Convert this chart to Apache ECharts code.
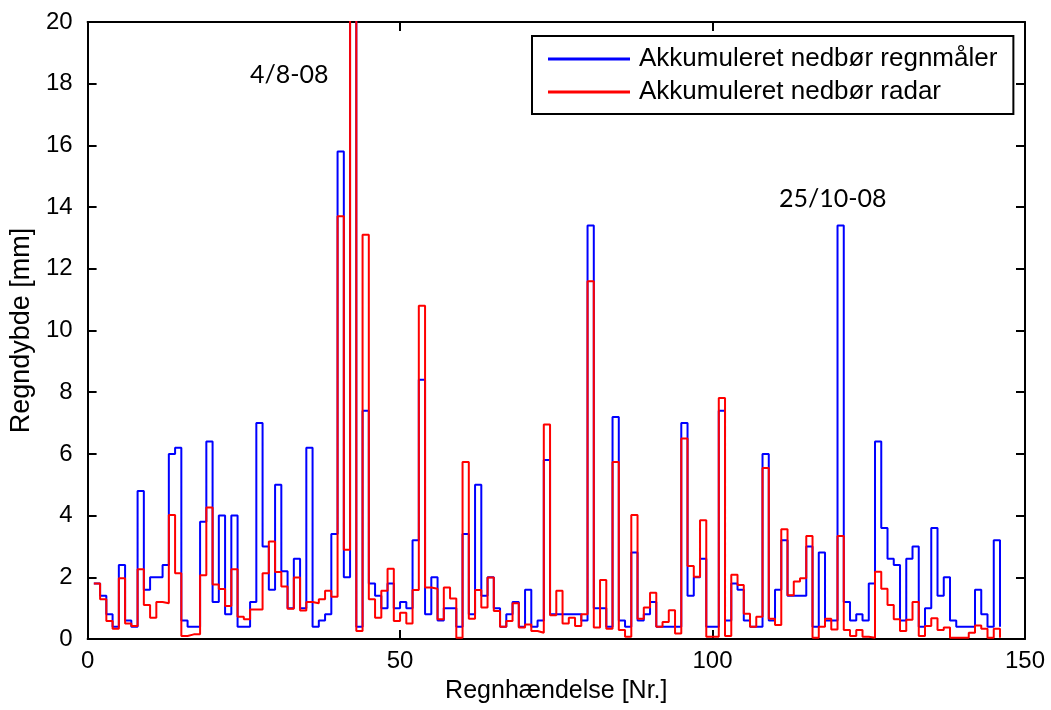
<!DOCTYPE html>
<html>
<head>
<meta charset="utf-8">
<script src="https://cdn.jsdelivr.net/npm/echarts@6/dist/echarts.min.js"></script>
<style>
html,body{margin:0;padding:0;background:#fff;}
#chart{width:1051px;height:710px;}
</style>
</head>
<body>
<div id="chart"></div>
<script>
// Event numbers (x) 1..146
const eventCount = 146;
const events = Array.from({length: eventCount}, (_, i) => i + 1);

// Rain gauge accumulated precipitation [mm]
const gauge = [
 1.8,1.4,0.8,0.4,2.4,0.6,0.4,4.8,1.6,2.0,
 2.0,2.4,6.0,6.2,0.6,0.4,0.4,3.8,6.4,1.2,
 4.0,0.8,4.0,0.4,0.4,1.2,7.0,3.0,1.6,5.0,
 2.2,1.0,2.6,1.0,6.2,0.4,0.6,0.8,3.4,15.8,
 2.0,23,0.4,7.4,1.8,1.4,1.0,1.8,1.0,1.2,
 1.0,3.2,8.4,0.8,2.0,0.6,1.0,1.0,0.4,3.4,
 0.8,5.0,1.4,2.0,1.0,0.4,0.8,1.2,0.4,1.6,
 0.4,0.6,5.8,0.8,0.8,0.8,0.8,0.8,0.6,13.4,
 1.0,1.0,0.4,7.2,0.6,0.4,2.8,0.6,0.8,1.2,
 0.4,0.4,0.4,0.4,7.0,1.4,2.0,2.6,0.4,0.4,
 7.4,0.6,1.8,1.6,0.6,0.4,0.4,6.0,0.6,1.6,
 3.2,1.4,1.4,1.4,3.0,0.4,2.8,0.6,0.6,13.4,
 1.2,0.6,0.8,0.6,1.8,6.4,3.6,2.6,2.4,0.6,
 2.6,3.0,0.4,1.0,3.6,1.4,2.0,0.6,0.4,0.4,
 0.4,1.6,0.8,0.4,3.2,0.4
];

// Radar accumulated precipitation [mm]
const radar = [
 1.8,1.29,0.58,0.33,1.97,0.5,0.42,2.26,1.1,0.69,
 1.2,1.16,4.02,2.13,0.1,0.15,0.15,2.07,4.26,1.77,
 1.62,1.07,2.26,0.72,0.64,0.96,0.96,2.13,3.16,2.17,
 1.7,0.98,1.99,0.92,1.2,1.16,1.29,1.56,1.37,13.7,
 2.89,23,0.26,13.1,1.29,0.69,1.56,2.28,0.58,0.85,
 0.5,1.59,10.8,1.67,1.63,0.64,1.67,1.31,0.04,5.74,
 0.66,1.59,1.02,1.99,0.91,0.4,0.58,1.16,0.37,0.47,
 0.26,0.2,6.95,0.77,1.56,0.5,0.69,0.42,0.8,11.6,
 0.37,1.91,0.33,5.74,0.29,0.07,4.02,0.66,1.02,1.5,
 0.4,0.55,0.93,0.18,6.5,2.37,2.02,3.85,0.07,0.07,
 7.81,0.1,2.08,1.75,0.82,0.4,0.72,5.54,0.66,0.45,
 3.56,1.42,1.86,1.97,3.34,0.04,0.4,0.66,0.31,3.34,
 0.29,0.1,0.29,0.07,0.04,2.18,1.63,1.1,0.64,0.26,
 0.62,1.2,0.1,0.42,0.67,0.29,0.37,0.04,0.04,0.04,
 0.2,0.44,0.33,0.04,0.33,0.04
];

const seriesNames = ['Akkumuleret nedbør regnmåler', 'Akkumuleret nedbør radar'];
const xTicks = [0, 50, 100, 150];
const yTicks = [0, 2, 4, 6, 8, 10, 12, 14, 16, 18, 20];
const annotations = ['4/8-08', '25/10-08'];

const pair = arr => events.map((x, i) => [x, arr[i]]);

const chart = echarts.init(document.getElementById('chart'), null, {renderer: 'canvas'});
const font = 'Liberation Sans, Arial, sans-serif';
const axisCommon = {
  axisLine: {show: true, onZero: false, lineStyle: {color: '#000', width: 2}},
  axisTick: {show: true, inside: true, length: 9, lineStyle: {color: '#000', width: 2}},
  splitLine: {show: false}
};

chart.setOption({
  animation: false,
  backgroundColor: '#fff',
  grid: {left: 87, right: 26, top: 22, bottom: 71, containLabel: false},
  xAxis: [
    Object.assign({
      type: 'value', min: xTicks[0], max: xTicks[xTicks.length - 1], interval: 50,
      name: 'Regnhændelse [Nr.]', nameLocation: 'middle', nameGap: 40,
      nameTextStyle: {fontFamily: font, fontSize: 25, color: '#000'},
      axisLabel: {fontFamily: font, fontSize: 24, color: '#000', margin: 10}
    }, axisCommon),
    Object.assign({
      type: 'value', position: 'top', min: 0, max: 150, interval: 50,
      axisLabel: {show: false}
    }, axisCommon)
  ],
  yAxis: [
    Object.assign({
      type: 'value', min: yTicks[0], max: yTicks[yTicks.length - 1], interval: 2,
      name: 'Regndybde [mm]', nameLocation: 'middle', nameGap: 50, nameRotate: 90,
      nameTextStyle: {fontFamily: font, fontSize: 27, color: '#000'},
      axisLabel: {fontFamily: font, fontSize: 24, color: '#000', margin: 15}
    }, axisCommon),
    Object.assign({
      type: 'value', position: 'right', min: 0, max: 20, interval: 2,
      axisLabel: {show: false}
    }, axisCommon)
  ],
  legend: {
    orient: 'vertical',
    left: 532, top: 36,
    padding: [10, 16, 9, 16],
    itemGap: 7,
    itemWidth: 82,
    itemHeight: 3,
    icon: 'rect',
    borderColor: '#000', borderWidth: 2,
    backgroundColor: '#fff',
    textStyle: {fontFamily: font, fontSize: 26, color: '#000', padding: [0, 0, 0, 4]},
    data: seriesNames
  },
  graphic: [
    {type: 'text', left: 250, top: 62, style: {text: annotations[0], font: '25px Lato, "Open Sans", sans-serif', fill: '#000'}},
    {type: 'text', left: 779, top: 186, style: {text: annotations[1], font: '25px Lato, "Open Sans", sans-serif', fill: '#000'}}
  ],
  series: [
    {
      name: seriesNames[0], type: 'line', step: 'end', data: pair(gauge),
      symbol: 'none', clip: true,
      lineStyle: {color: '#0000ff', width: 2}, itemStyle: {color: '#0000ff'}
    },
    {
      name: seriesNames[1], type: 'line', step: 'end', data: pair(radar),
      symbol: 'none', clip: true,
      lineStyle: {color: '#ff0000', width: 2}, itemStyle: {color: '#ff0000'}
    }
  ]
});
</script>
</body>
</html>
